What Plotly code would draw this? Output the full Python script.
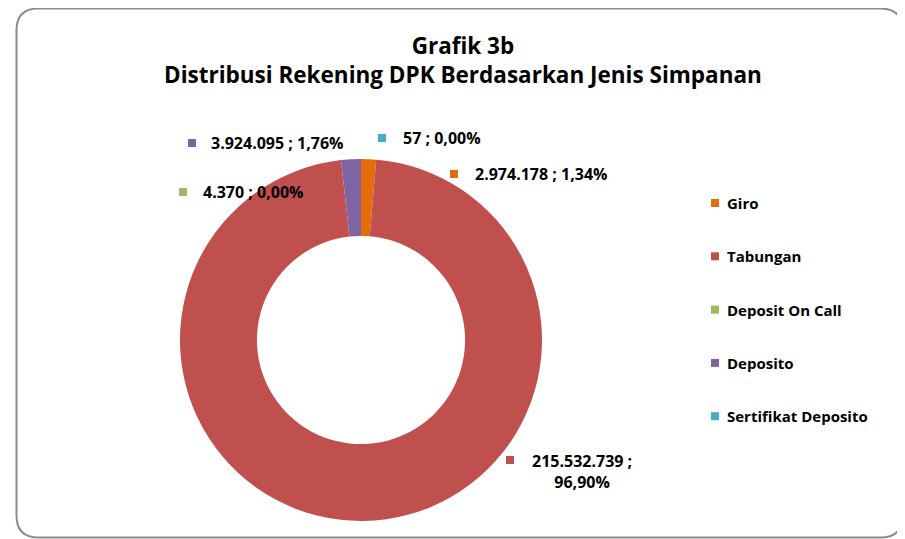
import plotly.graph_objects as go

# Data
categories = ["Giro", "Tabungan", "Deposit On Call", "Deposito", "Sertifikat Deposito"]
accounts = [2974178, 215532739, 4370, 3924095, 57]
colors = ["#E46C0A", "#C0504D", "#9BBB59", "#8064A2", "#4BACC6"]

# the page body has an 8px margin, so the figure is drawn 8px in from the window edge
OFF = 8
W, H = 905 - OFF, 539 - OFF


def px(x):
    return (x - OFF) / W


def py(y):
    return 1 - (y - OFF) / H


def fmt_label(v, total):
    num = f"{v:,}".replace(",", ".")
    pct = f"{v / total * 100:.2f}".replace(".", ",")
    return f"{num} ; {pct}%"


total = sum(accounts)
FONT = "Open Sans"

fig = go.Figure(
    go.Pie(
        labels=categories,
        values=accounts,
        marker=dict(colors=colors, line=dict(width=0)),
        hole=0.575,
        sort=False,
        direction="clockwise",
        rotation=0,
        textinfo="none",
        hoverinfo="label+value+percent",
        showlegend=False,
        domain=dict(x=[px(180), px(542)], y=[py(521), py(159)]),
    )
)

# outer rounded frame
x0, y0, x1, y1, r = px(16.5), py(8.5), px(902.5), py(537.5), 22
rx, ry = r / W, r / H
frame = (
    f"M {x0 + rx},{y0} L {x1 - rx},{y0} Q {x1},{y0} {x1},{y0 - ry} "
    f"L {x1},{y1 + ry} Q {x1},{y1} {x1 - rx},{y1} "
    f"L {x0 + rx},{y1} Q {x0},{y1} {x0},{y1 + ry} "
    f"L {x0},{y0 - ry} Q {x0},{y0} {x0 + rx},{y0} Z"
)
fig.add_shape(type="path", path=frame, xref="paper", yref="paper",
              line=dict(color="#8C8C8C", width=2), layer="below")

fig.add_annotation(
    x=px(463), y=py(60), xref="paper", yref="paper", showarrow=False,
    text="<b>Grafik 3b</b><br><b>Distribusi Rekening DPK Berdasarkan Jenis Simpanan</b>",
    font=dict(family=FONT, size=22.5, color="#000000"), align="center",
    xanchor="center", yanchor="middle",
)

# data labels: (square x, text x, y) in pixels
label_pos = [(450, 473, 174), (506, 530, 460), (179, 201, 192), (188, 209, 143), (378, 401, 138)]
for i, (sx, tx, y) in enumerate(label_pos):
    fig.add_shape(type="rect", xref="paper", yref="paper",
                  x0=px(sx), x1=px(sx + 8), y0=py(y + 4), y1=py(y - 4),
                  fillcolor=colors[i], line=dict(width=0))
    text = fmt_label(accounts[i], total)
    if categories[i] == "Tabungan":
        num, pct = text.split(" ; ")
        text = f"{num} ;<br>{pct}"
        yy, yanchor = py(y - 12), "top"
    else:
        yy, yanchor = py(y), "middle"
    fig.add_annotation(
        x=px(tx), y=yy, xref="paper", yref="paper", showarrow=False,
        text=f"<b>{text}</b>", align="center", xanchor="left", yanchor=yanchor,
        font=dict(family=FONT, size=16, color="#000000"),
    )

# legend
for i, name in enumerate(categories):
    y = 203 + i * 53.3
    fig.add_shape(type="rect", xref="paper", yref="paper",
                  x0=px(711), x1=px(719), y0=py(y + 4), y1=py(y - 4),
                  fillcolor=colors[i], line=dict(width=0))
    fig.add_annotation(
        x=px(725), y=py(y), xref="paper", yref="paper", showarrow=False,
        text=f"<b>{name}</b>", xanchor="left", yanchor="middle",
        font=dict(family=FONT, size=15, color="#000000"),
    )

fig.update_layout(
    width=W, height=H, autosize=False,
    margin=dict(l=0, r=0, t=0, b=0),
    paper_bgcolor="white", plot_bgcolor="white",
    font=dict(family=FONT),
)

fig.write_html("out.html")
